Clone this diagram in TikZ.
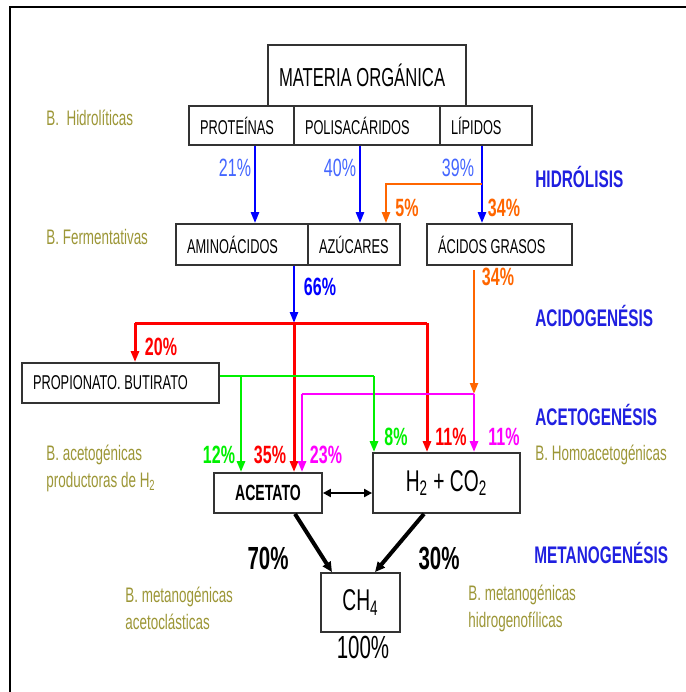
\documentclass[tikz,border=0pt]{standalone}
\usepackage{fontspec}
\setmainfont{Liberation Sans}[FakeStretch=0.64]
\usepackage{xcolor}
\usepackage{tikz}
\usetikzlibrary{arrows.meta}

\definecolor{oliva}{HTML}{9C9636}
\definecolor{azulfase}{HTML}{2020E0}
\definecolor{azulclaro}{HTML}{4466FF}
\definecolor{azul}{HTML}{0000FF}
\definecolor{naranja}{HTML}{FF6600}
\definecolor{rojo}{HTML}{FF0000}
\definecolor{verde}{HTML}{00F000}
\definecolor{magenta}{HTML}{FF00FF}

\begin{document}
\begin{tikzpicture}[x=0.5pt,y=-0.5pt,
            caja/.style={draw=black!80,line width=0.9pt,inner sep=0pt,
                font=\fontsize{10}{12}\selectfont},
            cajaizq/.style={caja,inner xsep=5.5pt,align=flush left,text width=#1},
            flecha/.style={-{Triangle[length=5.5pt,width=4pt]}},
            etiq/.style={font=\fontsize{10.5}{13.5}\selectfont,text=oliva,anchor=west,align=flush left,inner sep=0pt},
            fase/.style={font=\bfseries\fontsize{12}{14}\selectfont,text=azulfase,anchor=west,inner sep=0pt},
            pct/.style={font=\bfseries\fontsize{12.5}{14}\selectfont},
            pctclaro/.style={font=\fontsize{12.5}{14}\selectfont,text=azulclaro}
        ]
            \useasboundingbox (0,0) rectangle (686,692);
            \draw[line width=1.2pt] (10,692) -- (10,7) -- (686,7);

            % Hidrolisis
            \node[cajaizq=88pt,minimum height=30.5pt,font=\fontsize{13}{15}\selectfont] (mat) at (367,75.5) {MATERIA ORGÁNICA};
            \node[cajaizq=41.5pt,minimum height=19.5pt] (prot) at (241.5,125.5) {PROTEÍNAS};
            \node[cajaizq=62pt,minimum height=19.5pt] (pol) at (367,125.5) {POLISACÁRIDOS};
            \node[cajaizq=35pt,minimum height=19.5pt] (lip) at (486,125.5) {LÍPIDOS};

            % Fermentacion
            \node[cajaizq=55pt,minimum height=20.5pt] (amino) at (242,244.5) {AMINOÁCIDOS};
            \node[cajaizq=35pt,minimum height=20.5pt] (azu) at (354,244.5) {AZÚCARES};
            \node[cajaizq=61.5pt,minimum height=20.5pt] (acg) at (499.5,244.5) {ÁCIDOS GRASOS};

            % Acetogenesis y metanogenesis
            \node[cajaizq=87.5pt,minimum height=20pt] (prop) at (120.5,383) {PROPIONATO. BUTIRATO};
            \node[caja,minimum width=54pt,minimum height=20pt,font=\bfseries\fontsize{11}{13}\selectfont] (acet) at (268,493) {ACETATO};
            \node[caja,minimum width=73.5pt,minimum height=30pt,font=\fontsize{15}{17}\selectfont] (hco) at (446.5,483) {H\textsubscript{2} + CO\textsubscript{2}};
            \node[caja,minimum width=39.5pt,minimum height=29.5pt,font=\fontsize{15}{17}\selectfont] (ch4) at (360.5,602.5) {CH\textsubscript{4}};

            % Bacterias
            \node[etiq] (bhid) at (46,118) {B.\ \ Hidrolíticas};
            \node[etiq] (bfer) at (46,237) {B. Fermentativas};
            \node[etiq] (bacg) at (46,468) {B. acetogénicas\\productoras de H\textsubscript{2}};
            \node[etiq] (bhom) at (535,455) {B. Homoacetogénicas};
            \node[etiq] (bmac) at (125,608) {B. metanogénicas\\acetoclásticas};
            \node[etiq] (bmhi) at (468,608) {B. metanogénicas\\hidrogenofílicas};

            % Fases
            \node[fase] (fhid) at (535,177) {HIDRÓLISIS};
            \node[fase] (facd) at (535,316) {ACIDOGENÉSIS};
            \node[fase] (fact) at (535,415) {ACETOGENÉSIS};
            \node[fase] (fmet) at (534,553) {METANOGENÉSIS};

            % Puntos de cruce
            \coordinate (jn) at (482,184);
            \coordinate (rL) at (135,323);
            \coordinate (rC) at (294,323);
            \coordinate (rR) at (427,323);
            \coordinate (vA) at (241,376);
            \coordinate (vR) at (374,376);
            \coordinate (mL) at (302,394);
            \coordinate (mR) at (474,394);

            % Hidrolisis
            \foreach \a/\b/\x in {prot/amino/255,pol/azu/360,lip/acg/482} {
                \draw[flecha,azul,line width=1.2pt] (\a.south -| \x,0) -- (\b.north -| \x,0);
            }
            \draw[flecha,naranja,line width=1.1pt] (jn) -- (386,184) -- (azu.north -| 386,0);

            % Acidogenesis
            \draw[flecha,azul,line width=1.2pt] (amino.south -| rC) -- (rC);
            \draw[rojo,line width=1.5pt] (rL) -- (rR);
            \foreach \c/\b in {rL/prop,rC/acet,rR/hco} {
                \draw[flecha,rojo,line width=1.5pt] (\c) -- (\b.north -| \c);
            }
            \draw[flecha,naranja,line width=1.1pt,shorten <=2pt] (acg.south -| mR) -- (mR);

            % Acetogenesis
            \draw[verde,line width=1.4pt] (prop.east |- vA) -- (vR);
            \draw[magenta,line width=1.4pt] (mL) -- (mR);
            \foreach \c/\b/\col in {vA/acet/verde,vR/hco/verde,mL/acet/magenta,mR/hco/magenta} {
                \draw[flecha,\col,line width=1.4pt] (\c) -- (\b.north -| \c);
            }
            \draw[{Triangle[length=4pt,width=4pt]}-{Triangle[length=4pt,width=4pt]},line width=1.3pt] (acet.east) -- (hco.west |- acet.east);

            % Metanogenesis
            \draw[-{Triangle[length=5pt,width=4.5pt]},line width=2pt] (acet.south -| 295,0) -- (ch4.north -| 332,0);
            \draw[-{Triangle[length=5pt,width=4.5pt]},line width=2pt] (hco.south -| 424,0) -- (ch4.north -| 375,0);

            % Porcentajes
            \node[pctclaro] (p21) at (235,168) {21\%};
            \node[pctclaro] (p40) at (340,168) {40\%};
            \node[pctclaro] (p39) at (458,168) {39\%};
            \node[pct,text=naranja] (p5) at (407,208) {5\%};
            \node[pct,text=naranja] (p34a) at (504,208) {34\%};
            \node[pct,text=naranja] (p34b) at (498,277) {34\%};
            \node[pct,text=azul] (p66) at (320,287) {66\%};
            \node[pct,text=rojo] (p20) at (161,347) {20\%};
            \node[pct,text=verde] (p8) at (396,437) {8\%};
            \node[pct,text=rojo] (p11a) at (451,437) {11\%};
            \node[pct,text=magenta] (p11b) at (504,437) {11\%};
            \node[pct,text=verde] (p12) at (219,455) {12\%};
            \node[pct,text=rojo] (p35) at (270,455) {35\%};
            \node[pct,text=magenta] (p23) at (326,455) {23\%};
            \node[pct,font=\bfseries\fontsize{16}{18}\selectfont] (p70) at (268,558) {70\%};
            \node[pct,font=\bfseries\fontsize{16}{18}\selectfont] (p30) at (439,558) {30\%};
            \node[font=\fontsize{16}{18}\selectfont] (p100) at (363,647) {100\%};
        \end{tikzpicture}
\end{document}
